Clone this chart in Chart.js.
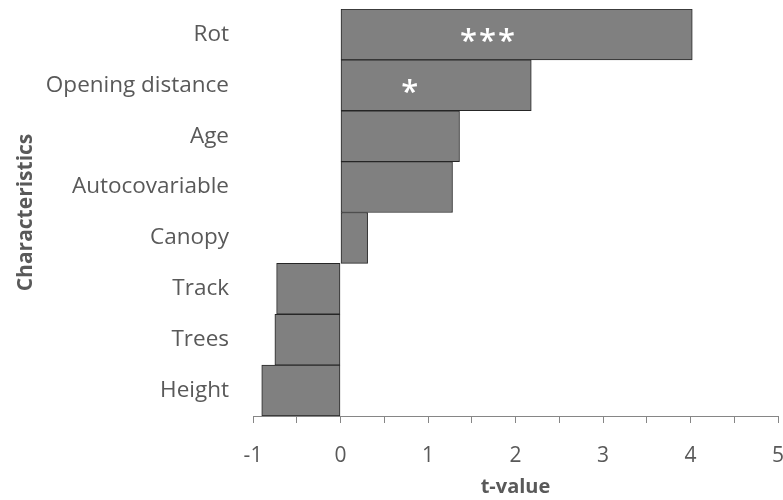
<!DOCTYPE html>
<html>
<head>
<meta charset="utf-8">
<script src="https://cdn.jsdelivr.net/npm/chart.js@4/dist/chart.umd.min.js"></script>
<style>
  html, body { margin: 0; padding: 0; background: #ffffff; }
  #wrap { width: 783px; height: 500px; position: relative; }
</style>
</head>
<body>
<div id="wrap"><canvas id="chart"></canvas></div>
<script>
// Model characteristics and their t-values
const categories = ['Rot', 'Opening distance', 'Age', 'Autocovariable', 'Canopy', 'Track', 'Trees', 'Height'];
const tValues = [4.02, 2.18, 1.36, 1.28, 0.31, -0.73, -0.75, -0.90];

// Significance markers written inside the bars, with the t-value where each is centred
const sigMarks = ['***', '*', '', '', '', '', '', ''];
const sigAt = [1.68, 0.79, 0, 0, 0, 0, 0, 0];

const axisMin = -1;
const axisMax = 5;

const FONT = "'Open Sans', 'Noto Sans', sans-serif";
const TEXT = '#595959';

const sigPlugin = {
  id: 'sigMarks',
  afterDatasetsDraw(chart) {
    const { ctx, scales } = chart;
    ctx.save();
    ctx.fillStyle = '#ffffff';
    ctx.font = "600 31px " + FONT;
    ctx.textAlign = 'center';
    ctx.textBaseline = 'middle';
    sigMarks.forEach((m, i) => {
      if (!m) return;
      const x = scales.x.getPixelForValue(sigAt[i]);
      const y = scales.y.getPixelForValue(i) + 8;
      // spread the asterisks slightly
      const chars = m.split('');
      const gap = 19;
      const start = x - gap * (chars.length - 1) / 2;
      chars.forEach((c, k) => ctx.fillText(c, start + k * gap, y));
    });
    ctx.restore();
  }
};

// keep the plot area fixed: no extra room for overhanging edge labels
function noEdgePadding(scale) {
  scale.paddingTop = 0;
  scale.paddingBottom = 0;
  scale.paddingLeft = 0;
  scale.paddingRight = 0;
}

new Chart(document.getElementById('chart'), {
  type: 'bar',
  data: {
    labels: categories,
    datasets: [{
      data: tValues,
      backgroundColor: '#808080',
      borderColor: '#262626',
      borderWidth: 1,
      borderSkipped: false,
      barPercentage: 1,
      categoryPercentage: 1
    }]
  },
  options: {
    indexAxis: 'y',
    responsive: true,
    maintainAspectRatio: false,
    animation: false,
    layout: { padding: { top: 9, right: 5, bottom: 0, left: 0 } },
    plugins: {
      legend: { display: false },
      tooltip: { enabled: false }
    },
    scales: {
      x: {
        min: axisMin,
        max: axisMax,
        afterFit(scale) { scale.height = 84; noEdgePadding(scale); },
        ticks: {
          stepSize: 0.5,
          autoSkip: false,
          maxRotation: 0,
          padding: 20,
          color: TEXT,
          font: { family: FONT, size: 21 },
          callback(v) { return Number.isInteger(v) ? String(v) : ''; }
        },
        grid: {
          drawOnChartArea: false,
          drawTicks: true,
          tickLength: 7,
          color: '#868686'
        },
        border: { display: true, color: '#868686', width: 1 },
        title: {
          display: true,
          text: 't-value',
          color: TEXT,
          font: { family: FONT, size: 20, weight: 'bold' },
          padding: { top: 0, bottom: 1 }
        }
      },
      y: {
        afterFit(scale) { scale.width = 253; noEdgePadding(scale); },
        ticks: {
          padding: 24,
          color: TEXT,
          font: { family: FONT, size: 22.5 }
        },
        grid: { display: false, drawTicks: false },
        border: { display: false },
        title: {
          display: true,
          text: 'Characteristics',
          color: TEXT,
          font: { family: FONT, size: 21, weight: 'bold' },
          padding: { top: 13, bottom: 0 }
        }
      }
    }
  },
  plugins: [sigPlugin]
});
</script>
</body>
</html>
